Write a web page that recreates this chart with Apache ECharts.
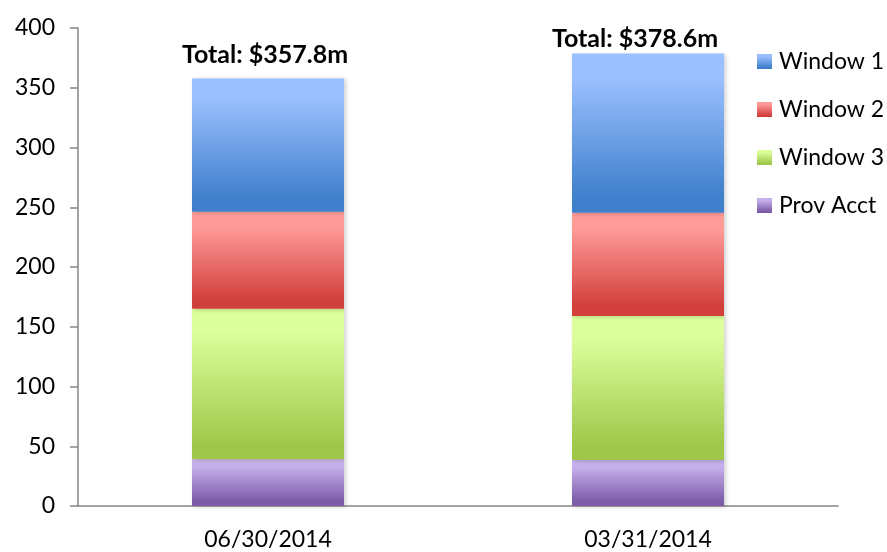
<!DOCTYPE html>
<html>
<head>
<meta charset="utf-8">
<script src="https://cdn.jsdelivr.net/npm/echarts@6/dist/echarts.min.js"></script>
<style>
  html, body { margin: 0; padding: 0; background: #fff; }
  #chart { width: 887px; height: 552px; }
</style>
</head>
<body>
<div id="chart"></div>
<script>
// data ($m)
const categories = ['06/30/2014', '03/31/2014']
const window1 = [111.6, 133.2]
const window2 = [81.2, 86.3]
const window3 = [125.9, 120.6]
const provAcct = [39.1, 38.5]
const totals = ['357.8', '378.6']

const font = 'Lato, "Open Sans", sans-serif'

function grad(top, bottom) {
  return new echarts.graphic.LinearGradient(0, 0, 0, 1, [
    { offset: 0, color: top },
    { offset: 0.15, color: top },
    { offset: 0.9, color: bottom },
    { offset: 1, color: bottom }
  ])
}

const shadow = {
  shadowColor: 'rgba(0,0,0,0.18)',
  shadowBlur: 4,
  shadowOffsetX: 2,
  shadowOffsetY: 1
}

function series(name, data, top, bottom) {
  return {
    name: name,
    type: 'bar',
    stack: 'total',
    barCategoryGap: '60%',
    data: data,
    itemStyle: Object.assign({ color: grad(top, bottom) }, shadow),
    emphasis: { disabled: true }
  }
}

// the total labels sit a little off-centre in the original
const labelOffsets = [[-3, -5], [-13, 4]]

const s1 = series('Window 1', window1.map((v, i) => ({
  value: v,
  label: { offset: labelOffsets[i] }
})), '#9bc0ff', '#3f7fcc')
s1.label = {
  show: true,
  position: 'top',
  distance: 6,
  fontFamily: font,
  fontSize: 25,
  fontWeight: 'bold',
  color: '#000',
  formatter: p => 'Total: $' + totals[p.dataIndex] + 'm'
}

const chart = echarts.init(document.getElementById('chart'))
chart.setOption({
  animation: false,
  grid: { left: 78, right: 49, top: 28, bottom: 46 },
  legend: {
    orient: 'vertical',
    left: 752,
    top: 45,
    itemWidth: 15,
    itemHeight: 15,
    itemGap: 25,
    icon: 'rect',
    textStyle: { fontFamily: font, fontSize: 23, color: '#000', padding: [0, 0, 0, 2] },
    data: ['Window 1', 'Window 2', 'Window 3', 'Prov Acct']
  },
  xAxis: {
    type: 'category',
    data: categories,
    axisLine: { lineStyle: { color: '#868686', width: 1.5 } },
    axisTick: { length: 8, lineStyle: { color: '#868686', width: 1.5 } },
    axisLabel: { fontFamily: font, fontSize: 23, color: '#000', margin: 22 }
  },
  yAxis: {
    type: 'value',
    min: 0,
    max: 400,
    interval: 50,
    splitLine: { show: false },
    axisLine: { show: true, lineStyle: { color: '#868686', width: 1.5 } },
    axisTick: { show: true, length: 8, lineStyle: { color: '#868686', width: 1.5 } },
    axisLabel: { fontFamily: font, fontSize: 23, color: '#000', margin: 23 }
  },
  series: [
    series('Prov Acct', provAcct, '#c6b0eb', '#7c5ba8'),
    series('Window 3', window3, '#dcff9c', '#9fc84a'),
    series('Window 2', window2, '#ff9b99', '#d2403c'),
    s1
  ]
})
</script>
</body>
</html>
